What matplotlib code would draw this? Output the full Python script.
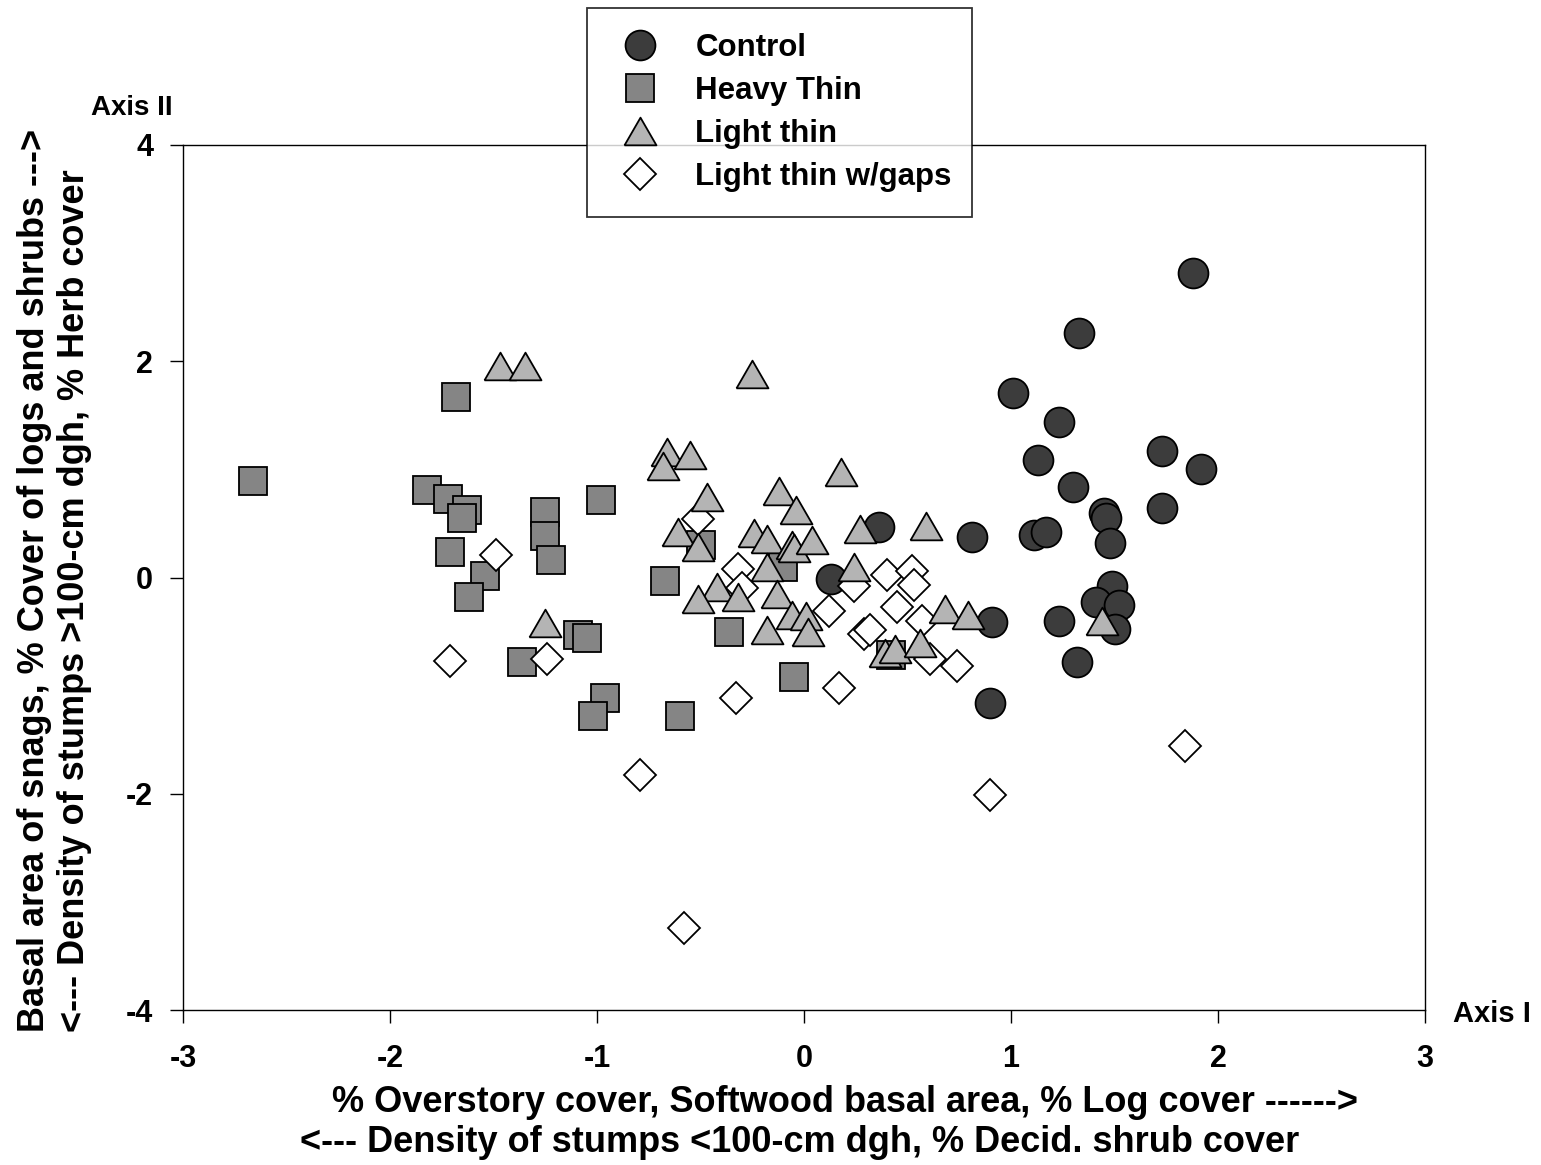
import matplotlib
matplotlib.use("Agg")
import matplotlib.pyplot as plt
from matplotlib.lines import Line2D

plt.rcParams['font.family'] = ['Liberation Sans', 'DejaVu Sans']
plt.rcParams['font.weight'] = 'bold'

# ---------------- data ----------------
control_x = [1.88, 1.33, 1.01, 1.23, 1.13, 1.30, 1.73, 1.92, 1.73, 1.45, 1.46, 1.48,
             1.11, 1.17, 0.81, 1.49, 1.41, 1.52, 1.50, 1.23, 1.32, 0.91, 0.90, 0.36, 0.13]
control_y = [2.82, 2.26, 1.71, 1.44, 1.09, 0.84, 1.17, 1.00, 0.64, 0.60, 0.55, 0.32,
             0.39, 0.42, 0.37, -0.08, -0.23, -0.25, -0.48, -0.40, -0.78, -0.41, -1.16, 0.47, -0.01]

heavy_x = [-1.68, -2.66, -1.82, -1.72, -1.63, -1.65, -1.25, -1.25, -1.22, -0.98, -1.71,
           -1.54, -1.62, -1.09, -1.05, -1.36, -0.96, -1.02, -0.67, -0.50, -0.10, -0.36,
           -0.05, -0.60, 0.42]
heavy_y = [1.67, 0.89, 0.81, 0.73, 0.62, 0.55, 0.61, 0.38, 0.16, 0.72, 0.24,
           0.01, -0.18, -0.53, -0.56, -0.78, -1.11, -1.28, -0.03, 0.30, 0.10, -0.50,
           -0.92, -1.28, -0.72]

light_x = [-1.47, -1.35, -1.25, -0.25, -0.66, -0.68, -0.55, 0.18, -0.47, -0.12, -0.04,
           -0.61, -0.51, -0.24, -0.18, -0.06, -0.05, 0.04, 0.27, 0.59, -0.18, 0.24,
           -0.42, -0.51, -0.32, -0.13, -0.06, 0.01, -0.18, 0.02, 0.68, 0.79, 0.39,
           0.44, 0.56, 1.44]
light_y = [1.96, 1.96, -0.42, 1.88, 1.16, 1.03, 1.13, 0.98, 0.74, 0.80, 0.62,
           0.42, 0.28, 0.41, 0.36, 0.30, 0.27, 0.35, 0.45, 0.48, 0.10, 0.10,
           -0.09, -0.20, -0.18, -0.15, -0.35, -0.36, -0.49, -0.50, -0.29, -0.35, -0.70,
           -0.66, -0.61, -0.40]

gaps_x = [-1.49, -1.71, -1.24, -0.51, -0.32, -0.30, 0.12, 0.24, 0.29, 0.32, 0.40,
          0.52, 0.53, 0.45, 0.57, 0.61, 0.74, -0.33, 0.17, -0.79, 0.90, 1.84, -0.58]
gaps_y = [0.21, -0.77, -0.75, 0.54, 0.08, -0.10, -0.31, -0.08, -0.52, -0.49, 0.02,
          0.06, -0.07, -0.27, -0.40, -0.75, -0.82, -1.11, -1.02, -1.83, -2.01, -1.56, -3.24]

labels = ["Control", "Heavy Thin", "Light thin", "Light thin w/gaps"]
x_ticks = [-3, -2, -1, 0, 1, 2, 3]
y_ticks = [-4, -2, 0, 2, 4]

# ---------------- figure ----------------
W, H = 1541, 1165
fig = plt.figure(figsize=(W / 100, H / 100), dpi=100)
ax = fig.add_axes([183 / W, 1 - 1010 / H, (1425 - 183) / W, (1010 - 145) / H])

tri = [(-1.0, -0.866), (1.0, -0.866), (0.0, 0.866), (-1.0, -0.866)]

styles = {
    "Control": dict(marker='o', ms=21.5, mfc='#3c3c3c', mec='black', mew=1.3),
    "Heavy Thin": dict(marker='s', ms=19.5, mfc='#858585', mec='black', mew=1.3),
    "Light thin": dict(marker=tri, ms=23, mfc='#b4b4b4', mec='black', mew=1.3),
    "Light thin w/gaps": dict(marker='D', ms=16.5, mfc='white', mec='black', mew=1.3),
}

ax.plot(control_x, control_y, ls='none', zorder=3, **styles["Control"])
ax.plot(heavy_x, heavy_y, ls='none', zorder=4, **styles["Heavy Thin"])
ax.plot(gaps_x, gaps_y, ls='none', zorder=5, **styles["Light thin w/gaps"])
ax.plot(light_x, light_y, ls='none', zorder=6, **styles["Light thin"])

ax.set_xlim(-3, 3)
ax.set_ylim(-4, 4)
ax.set_xticks(x_ticks)
ax.set_yticks(y_ticks)
ax.set_xticklabels([str(v) for v in x_ticks])
ax.set_yticklabels([str(v) for v in y_ticks])
ax.tick_params(direction='out', length=9.5, width=1.0, labelsize=22)
ax.tick_params(axis='x', pad=15)
ax.tick_params(axis='y', pad=12)
for lab in ax.get_xticklabels() + ax.get_yticklabels():
    lab.set_fontweight('bold')
for sp in ax.spines.values():
    sp.set_linewidth(1.0)

# axis titles
fig.text(132 / W, 1 - 108 / H, "Axis II", fontsize=20, fontweight='bold',
         ha='center', va='center')
fig.text(1492 / W, 1 - 1014 / H, "Axis I", fontsize=21, fontweight='bold',
         ha='center', va='center')

fig.text(845 / W, 1 - 1103 / H,
         "% Overstory cover, Softwood basal area, % Log cover ------>",
         fontsize=26, fontweight='bold', ha='center', va='center')
fig.text(800 / W, 1 - 1143 / H,
         "<--- Density of stumps <100-cm dgh, % Decid. shrub cover",
         fontsize=26, fontweight='bold', ha='center', va='center')

fig.text(35 / W, 1 - 1032 / H,
         "Basal area of snags, % Cover of logs and shrubs --->",
         fontsize=26, fontweight='bold', rotation=90, rotation_mode='anchor',
         ha='left', va='center')
fig.text(74 / W, 1 - 1032 / H,
         "<--- Density of stumps >100-cm dgh, % Herb cover",
         fontsize=26, fontweight='bold', rotation=90, rotation_mode='anchor',
         ha='left', va='center')

# legend
handles = [Line2D([], [], ls='none', **styles[k]) for k in labels]
leg = fig.legend(handles, labels, loc='upper left',
                 bbox_to_anchor=(587 / W, 1 - 8 / H, (972 - 587) / W, 0.0),
                 mode='expand', frameon=True, fancybox=False, edgecolor='black',
                 prop=dict(size=22.5, weight='bold'), handlelength=1.82,
                 handletextpad=0.85, labelspacing=0.42, borderpad=0.8,
                 borderaxespad=0, markerscale=1.0)
leg.get_frame().set_linewidth(1.3)
leg.set_zorder(10)

fig.savefig("out.png", dpi=100, facecolor='white')
